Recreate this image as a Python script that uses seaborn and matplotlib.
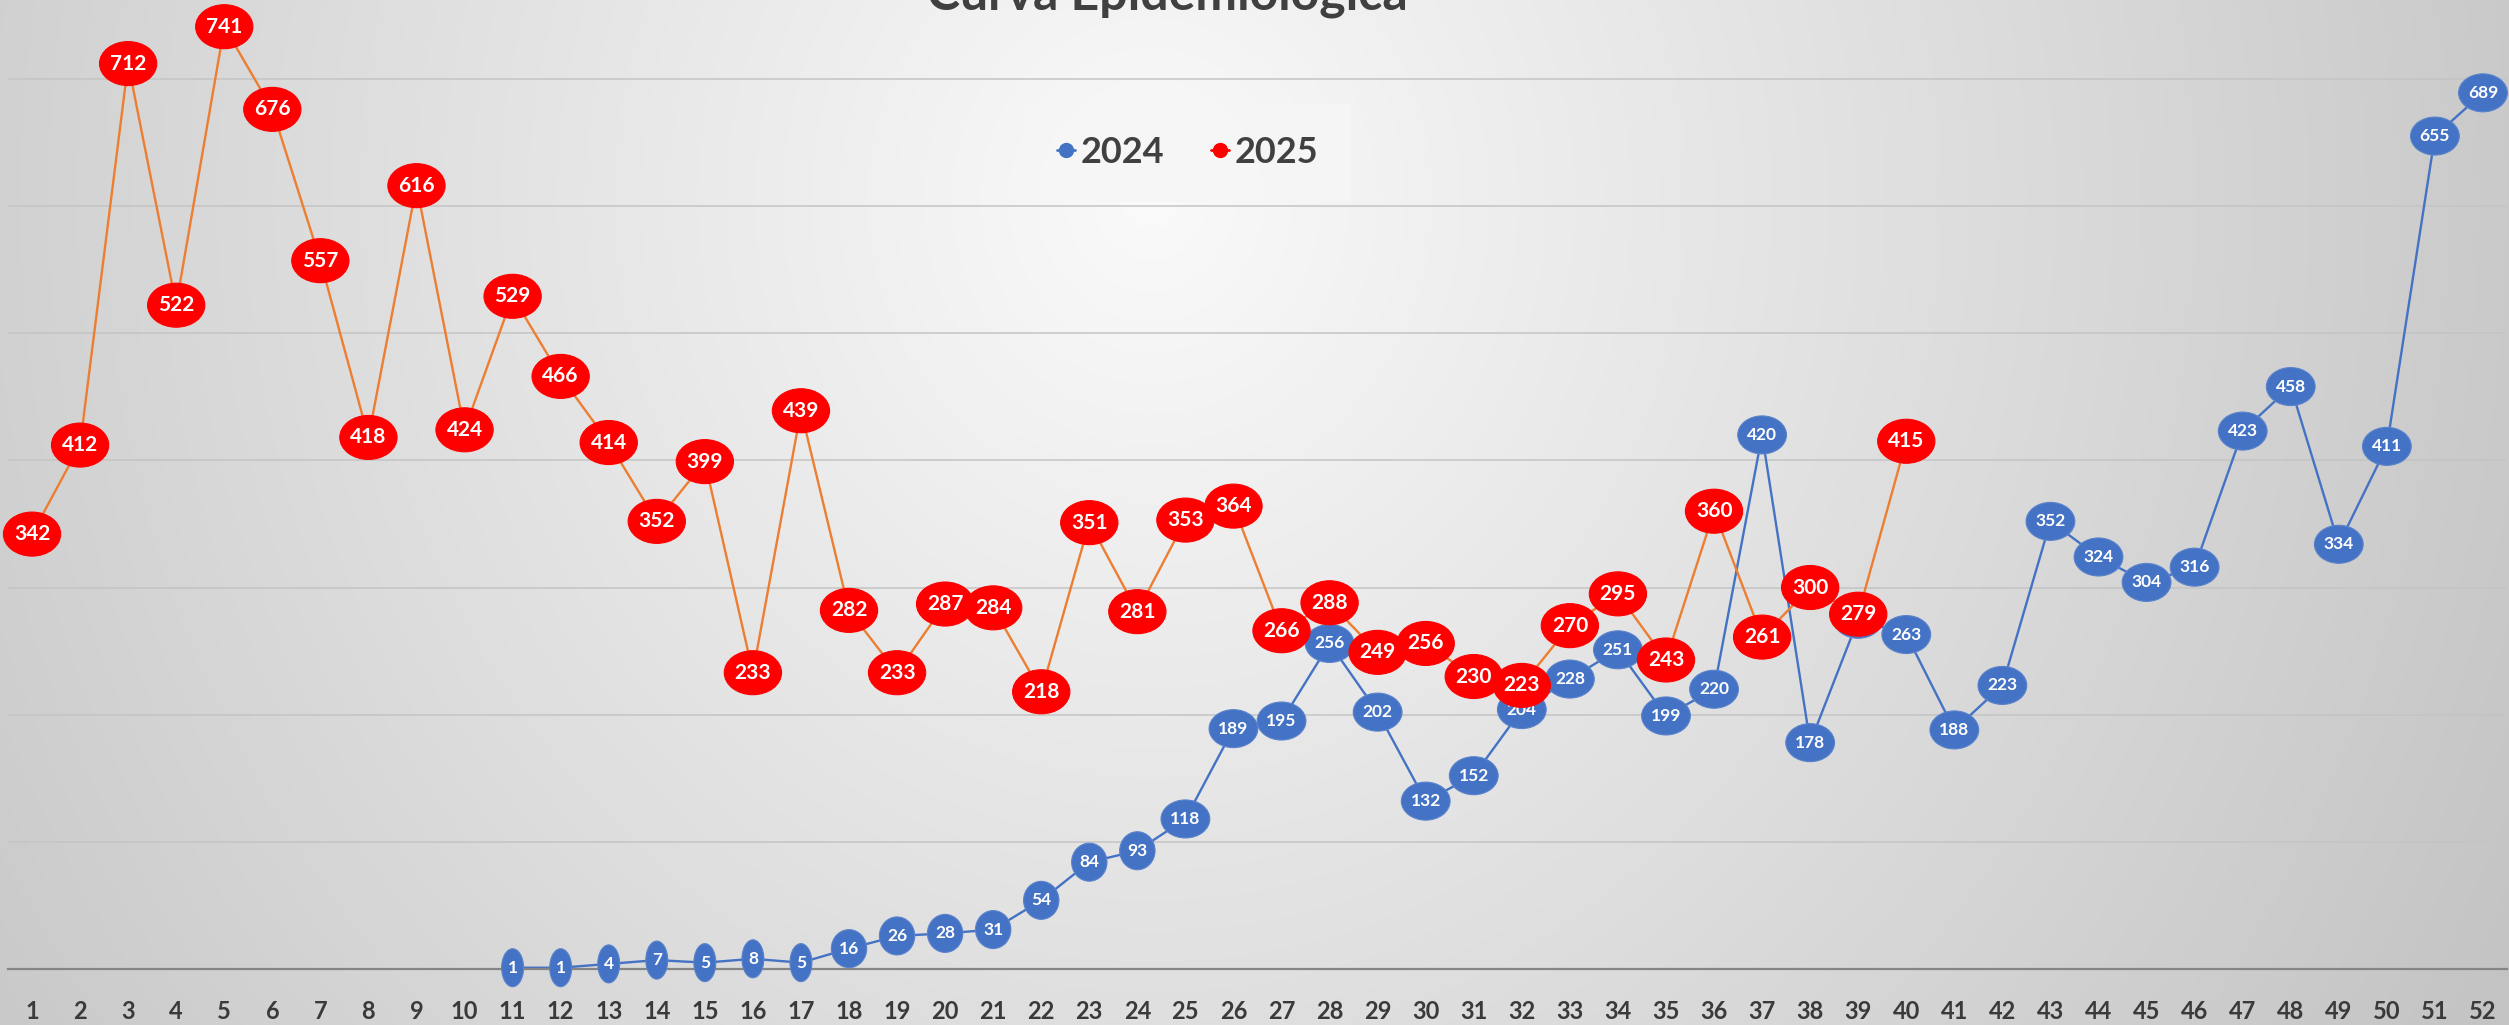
import numpy as np
import pandas as pd
import seaborn as sns
import matplotlib.pyplot as plt
from matplotlib.lines import Line2D
from matplotlib.patches import Ellipse
from matplotlib.transforms import ScaledTranslation

# weekly cases
weeks_2025 = list(range(1, 41))
cases_2025 = [342, 412, 712, 522, 741, 676, 557, 418, 616, 424,
              529, 466, 414, 352, 399, 233, 439, 282, 233, 287,
              284, 218, 351, 281, 353, 364, 266, 288, 249, 256,
              230, 223, 270, 295, 243, 360, 261, 300, 279, 415]

weeks_2024 = list(range(11, 53))
cases_2024 = [1, 1, 4, 7, 5, 8, 5, 16, 26, 28,
              31, 54, 84, 93, 118, 189, 195, 256, 202, 132,
              152, 204, 228, 251, 199, 220, 420, 178, 275, 263,
              188, 223, 352, 324, 304, 316, 423, 458, 334, 411,
              655, 689]

week_labels = [str(w) for w in range(1, 53)]
series_names = ['2024', '2025']

df = pd.concat([
    pd.DataFrame({'week': weeks_2024, 'cases': cases_2024, 'year': '2024'}),
    pd.DataFrame({'week': weeks_2025, 'cases': cases_2025, 'year': '2025'}),
])

sns.set_theme(style='white')
plt.rcParams['font.family'] = ['Lato', 'DejaVu Sans']

W, H = 2509, 1025
fig = plt.figure(figsize=(W / 100, H / 100), dpi=100)

# radial grey background
bg = fig.add_axes([0, 0, 1, 1], zorder=-10)
yy, xx = np.mgrid[0:H, 0:W]
d = np.sqrt(((xx - 1150) / 1300.0) ** 2 + ((yy - 200) / 1400.0) ** 2)
val = np.clip(250 - 46 * d, 195, 252) / 255.0
bg.imshow(np.dstack([val, val, val]), aspect='auto', extent=[0, 1, 0, 1])
bg.axis('off')

ax = fig.add_axes([8 / W, 56 / H, 2499 / W, 969 / H])
ax.patch.set_alpha(0)

sns.lineplot(data=df, x='week', y='cases', hue='year',
             palette={'2024': '#4472C4', '2025': '#ED7D31'},
             linewidth=1.7, legend=False, ax=ax, zorder=2)

ax.set_xlim(0.5, 52.5)
ax.set_ylim(0, 762)
ax.set_yticks(range(100, 800, 100))
ax.set_yticklabels([])
ax.yaxis.grid(True, color='#c4c4c4', linewidth=1.1)
ax.xaxis.grid(False)
ax.set_xticks(range(1, 53))
ax.set_xticklabels(week_labels, fontsize=17, fontweight='bold', color='#3a3a3a')
ax.tick_params(axis='both', length=0)
ax.tick_params(axis='x', pad=22)
ax.set_xlabel('')
ax.set_ylabel('')
for side in ['left', 'right', 'top']:
    ax.spines[side].set_visible(False)
ax.spines['bottom'].set_color('#858585')
ax.spines['bottom'].set_linewidth(1.6)


def label(x, y, txt, fc, ec, fsize, digit_px, h_px, z):
    # ellipse sized in pixels, centred on the data point
    w_px = 1.414 * (len(txt) * digit_px + 6)
    tr = fig.dpi_scale_trans + ScaledTranslation(x, y, ax.transData)
    ax.add_patch(Ellipse((0, 0), w_px / 100, h_px / 100, transform=tr,
                         fc=fc, ec=ec, lw=0.8, zorder=z, clip_on=False))
    ax.text(x, y, txt, ha='center', va='center', fontsize=fsize,
            fontweight='bold', color='white', zorder=z + 0.1, clip_on=False)


for w, v in zip(weeks_2024, cases_2024):
    label(w, v, str(v), '#4472C4', '#5a83cc', 12.5, 9.5, 38, 3)
for w, v in zip(weeks_2025, cases_2025):
    label(w, v, str(v), '#FF0000', '#FF0000', 15, 11.5, 44, 4)

# title (cut by the top edge in the original)
fig.text(1167 / W, 1 - 9 / H, 'Curva Epidemiológica', ha='center', va='baseline',
         fontsize=36, fontweight='bold', color='#404040')

handles = [Line2D([0], [0], color='#4472C4', marker='o', markersize=10, lw=2),
           Line2D([0], [0], color='#FF0000', marker='o', markersize=10, lw=2)]
leg = fig.legend(handles, series_names, loc='center',
                 bbox_to_anchor=((1032 + 1343) / 2 / W, 1 - (105 + 200) / 2 / H),
                 ncol=2, frameon=True, fancybox=False, handlelength=0.5,
                 handletextpad=0.15, columnspacing=1.3, borderpad=0.9,
                 prop={'weight': 'bold', 'size': 26})
leg.get_frame().set_facecolor('#f6f6f6')
leg.get_frame().set_edgecolor('none')
for t in leg.get_texts():
    t.set_color('#404040')

fig.savefig('out.png', dpi=100)
